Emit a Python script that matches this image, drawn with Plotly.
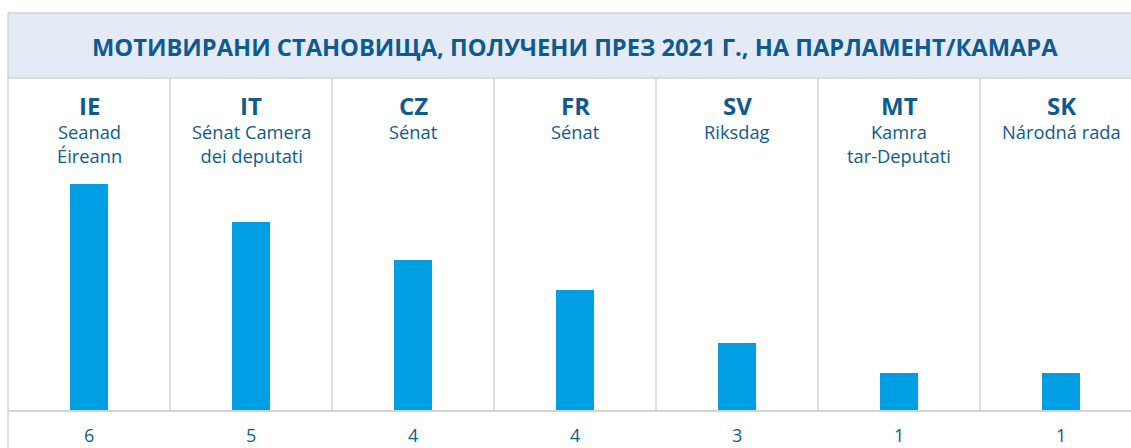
import plotly.graph_objects as go

# ---- data ----
codes = ["IE", "IT", "CZ", "FR", "SV", "MT", "SK"]
chambers = ["Seanad<br>Éireann", "Sénat Camera<br>dei deputati", "Sénat", "Sénat",
            "Riksdag", "Kamra<br>tar-Deputati", "Národná rada"]
values = [6, 5, 4, 4, 3, 1, 1]                     # printed counts
bar_lengths = [6, 5, 4, 3.2, 1.8, 1, 1]            # bar lengths as drawn
title = "МОТИВИРАНИ СТАНОВИЩА, ПОЛУЧЕНИ ПРЕЗ 2021 Г., НА ПАРЛАМЕНТ/КАМАРА"

W, H = 1131, 448
COL_W = 162.0
LEFT = 8.0
BASE = 411.0
UNIT = 37.8

TXT = "#0d5b91"
BAR = "#009fe3"
GRID = "#d3d3d3"
BAND = "#e4eaf6"
FONT = "Open Sans"

def py(px):
    return 1 - px / H

x0 = -0.5 - LEFT / COL_W
x1 = -0.5 + (W - LEFT) / COL_W
y0 = -(H - BASE) / UNIT
y1 = BASE / UNIT

xs = list(range(len(codes)))

fig = go.Figure()
fig.add_trace(go.Bar(x=xs, y=bar_lengths, width=38 / COL_W,
                     marker=dict(color=BAR, line=dict(width=0)),
                     hoverinfo="skip", showlegend=False))

shapes = []
shapes.append(dict(type="rect", xref="x", yref="paper", x0=-0.5, x1=x1 + 1,
                   y0=py(78), y1=py(13), fillcolor=BAND, line=dict(width=0), layer="below"))
for yy in (13, 78):
    shapes.append(dict(type="line", xref="x", yref="paper", x0=-0.5, x1=x1 + 1,
                       y0=py(yy), y1=py(yy), line=dict(color=GRID, width=1.5)))
shapes.append(dict(type="line", xref="x", yref="paper", x0=-0.5, x1=x1 + 1,
                   y0=py(BASE), y1=py(BASE), line=dict(color=GRID, width=2)))
shapes.append(dict(type="line", xref="x", yref="paper", x0=-0.5, x1=-0.5,
                   y0=py(13), y1=0, line=dict(color=GRID, width=1.5)))
for i in range(1, len(codes)):
    shapes.append(dict(type="line", xref="x", yref="paper", x0=i - 0.5, x1=i - 0.5,
                       y0=py(78), y1=py(BASE), line=dict(color=GRID, width=1.5)))

ann = []
ann.append(dict(text="<b>" + title + "</b>", xref="paper", yref="paper",
                x=575 / W, y=py(46.5), showarrow=False,
                xanchor="center", yanchor="middle",
                font=dict(family=FONT, size=23.7, color=TXT)))
for i, (c, ch, v) in enumerate(zip(codes, chambers, values)):
    ann.append(dict(text="<b>" + c + "</b>", x=i, xref="x", yref="paper", y=py(105.5),
                    showarrow=False, xanchor="center", yanchor="middle",
                    font=dict(family=FONT, size=24, color=TXT)))
    ann.append(dict(text=ch, x=i, xref="x", yref="paper", y=py(117), showarrow=False,
                    xanchor="center", yanchor="top", align="center",
                    font=dict(family=FONT, size=18.3, color=TXT)))
    ann.append(dict(text=str(v), x=i, xref="x", yref="paper", y=py(447.5), showarrow=False,
                    xanchor="center", yanchor="bottom", borderpad=0,
                    font=dict(family=FONT, size=18, color=TXT)))

fig.update_layout(
    width=W, height=H, margin=dict(l=0, r=0, t=0, b=0),
    paper_bgcolor="white", plot_bgcolor="white",
    xaxis=dict(range=[x0, x1], visible=False, fixedrange=True),
    yaxis=dict(range=[y0, y1], visible=False, fixedrange=True),
    shapes=shapes, annotations=ann, bargap=0,
)

fig.write_html("out.html")
